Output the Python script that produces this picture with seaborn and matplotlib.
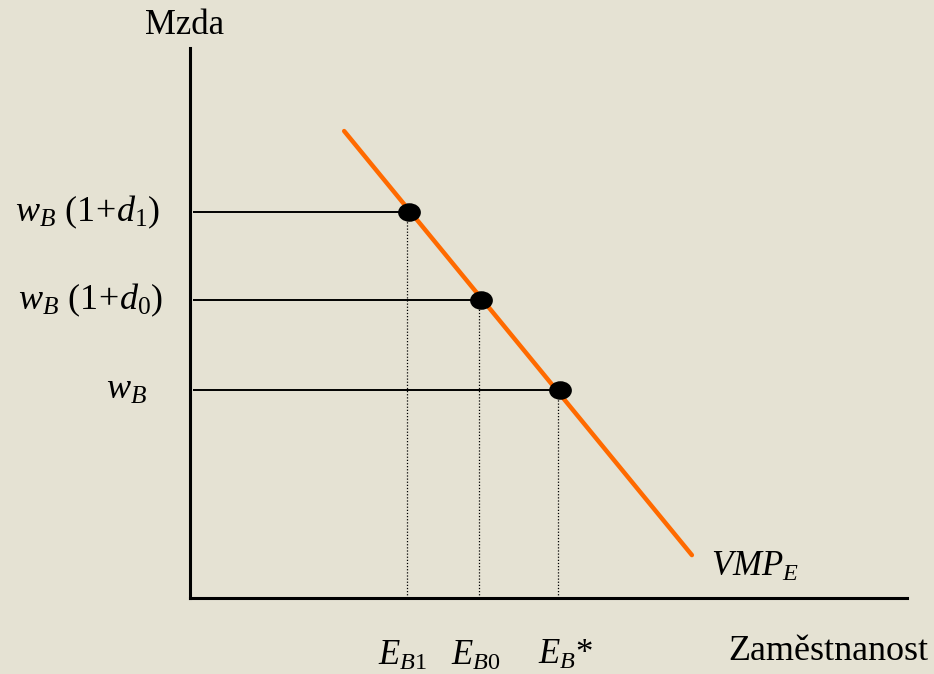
import numpy as np
import pandas as pd
import matplotlib
matplotlib.use("Agg")
import matplotlib.pyplot as plt
from matplotlib.path import Path
from matplotlib.transforms import Affine2D
import seaborn as sns

# demand curve VMP_E (employment, wage)
vmp_x = [21.5, 70.0]
vmp_y = [84.9, 7.8]

# equilibrium points: E_B1, E_B0, E_B*
emp = [30.5, 40.6, 51.6]
wage = [70.2, 54.2, 37.8]
wage_labels = [r"$w_B\,\,(1\!+\!d_1)$", r"$w_B\,\,(1\!+\!d_0)$", r"$w_B$"]
emp_labels = [r"$E_{B1}$", r"$E_{B0}$", r"$E_B$*"]

bg = "#E5E2D3"
orange = "#FF6A00"

sns.set_style("white")
plt.rcParams["font.family"] = ["Liberation Serif", "DejaVu Serif"]
plt.rcParams["text.color"] = "black"
plt.rcParams["mathtext.fontset"] = "custom"
plt.rcParams["mathtext.rm"] = "Liberation Serif"
plt.rcParams["mathtext.it"] = "Liberation Serif:italic"

fig = plt.figure(figsize=(9.34, 6.74), dpi=100, facecolor=bg)
ax = fig.add_axes([190 / 934, 76 / 674, 717 / 934, 550 / 674])
ax.set_facecolor(bg)
ax.set_xlim(0, 100)
ax.set_ylim(0, 100)

# guide lines
ax.hlines(wage, 0.4, emp, color="black", lw=1.4, zorder=2)
ax.vlines([e - 0.3 for e in emp], 0, wage, color="black", lw=0.9,
          linestyles=(0, (1, 1.5)), zorder=2)

line_df = pd.DataFrame({"E": vmp_x, "w": vmp_y})
sns.lineplot(data=line_df, x="E", y="w", color=orange, lw=3.2, ax=ax, zorder=3)

ellipse = Path.unit_circle().transformed(Affine2D().scale(1.25, 1.0))
pts = pd.DataFrame({"E": emp, "w": wage})
sns.scatterplot(data=pts, x="E", y="w", marker=ellipse, s=230, color="black",
                edgecolor="black", ax=ax, zorder=4)

sns.despine(ax=ax)
for s in ["left", "bottom"]:
    ax.spines[s].set_linewidth(2.2)
    ax.spines[s].set_color("black")
ax.set_xticks([])
ax.set_yticks([])
ax.set_xlabel("")
ax.set_ylabel("")

# text labels
ax.text(-0.7, 104.0, "Mzda", fontsize=25, ha="center", va="center", clip_on=False)
ax.text(89.0, -9.8, "Zaměstnanost", fontsize=26, ha="center", va="center", clip_on=False)
ax.text(72.6, 5.6, r"$VMP_E$", fontsize=25, ha="left", va="center")

wage_x = [-14.3, -13.9, -8.9]
for lx, w, lab in zip(wage_x, wage, wage_labels):
    ax.text(lx, w, lab, fontsize=26, ha="center", va="center", clip_on=False)

emp_xy = [(29.6, -10.6), (39.8, -10.6), (52.4, -10.4)]
for (ex, ey), lab in zip(emp_xy, emp_labels):
    ax.text(ex, ey, lab, fontsize=25, ha="center", va="center", clip_on=False)

fig.savefig("out.png", dpi=100, facecolor=bg)
